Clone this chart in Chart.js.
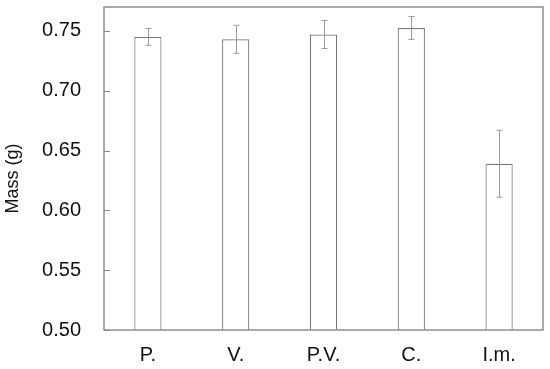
<!DOCTYPE html>
<html>
<head>
<meta charset="utf-8">
<script src="https://cdn.jsdelivr.net/npm/chart.js@4"></script>
<style>
  html, body { margin: 0; padding: 0; background: #fff; }
  #wrap { width: 550px; height: 369px; }
</style>
</head>
<body>
<div id="wrap"><canvas id="chart" width="550" height="369"></canvas></div>
<script>
// ── DATA ──
const categories = ['P.', 'V.', 'P.V.', 'C.', 'I.m.'];
const massMean   = [0.745, 0.743, 0.747, 0.7525, 0.639];
const massErr    = [0.007, 0.0117, 0.0117, 0.0096, 0.028];
const yTicks     = [0.50, 0.55, 0.60, 0.65, 0.70, 0.75];

const AXIS = '#868686';
const FONT = 'Liberation Sans, Arial, sans-serif';

// box round the plot, inward y ticks, error bars
const extras = {
  id: 'extras',
  afterDatasetsDraw(chart) {
    const { ctx, chartArea: a, scales: { x, y } } = chart;
    ctx.save();

    // error bars
    ctx.strokeStyle = '#9a9a9a';
    ctx.lineWidth = 1;
    massMean.forEach((v, i) => {
      const cx = Math.round(x.getPixelForValue(i)) + 0.5;
      const top = y.getPixelForValue(v + massErr[i]);
      const bot = y.getPixelForValue(v - massErr[i]);
      ctx.beginPath();
      ctx.moveTo(cx, top); ctx.lineTo(cx, bot);
      ctx.moveTo(cx - 3, top); ctx.lineTo(cx + 3, top);
      ctx.moveTo(cx - 3, bot); ctx.lineTo(cx + 3, bot);
      ctx.stroke();
    });

    // frame
    ctx.strokeStyle = AXIS;
    ctx.lineWidth = 1.4;
    ctx.strokeRect(a.left, a.top, a.right - a.left, a.bottom - a.top);

    // ticks pointing inward
    ctx.lineWidth = 1;
    y.ticks.forEach(t => {
      const py = Math.round(y.getPixelForValue(t.value)) + 0.5;
      ctx.beginPath();
      ctx.moveTo(a.left, py); ctx.lineTo(a.left + 6, py);
      ctx.stroke();
    });
    ctx.restore();
  }
};

new Chart(document.getElementById('chart'), {
  type: 'bar',
  data: {
    labels: categories,
    datasets: [{
      data: massMean,
      backgroundColor: '#ffffff',
      borderColor: '#777777',
      borderWidth: 1.2,
      barPercentage: 0.31,
      categoryPercentage: 1
    }]
  },
  options: {
    responsive: false,
    animation: false,
    layout: { padding: { top: 7, right: 7, left: 0, bottom: 0 } },
    plugins: { legend: { display: false }, tooltip: { enabled: false } },
    scales: {
      x: {
        grid: { display: false, drawTicks: false },
        border: { display: false },
        ticks: { color: '#111', font: { family: FONT, size: 20 }, padding: 13 },
        afterFit(s) { s.height = 39; s.paddingLeft = 0; s.paddingRight = 0; }
      },
      y: {
        min: 0.5,
        max: 0.77,
        grid: { display: false, drawTicks: false },
        border: { display: false },
        afterBuildTicks(s) { s.ticks = yTicks.map(v => ({ value: v })); },
        ticks: {
          color: '#111',
          font: { family: FONT, size: 20 },
          padding: 23,
          callback: v => Number(v).toFixed(2)
        },
        title: {
          display: true,
          text: 'Mass (g)    ',
          color: '#111',
          font: { family: FONT, size: 18 },
          padding: { top: 2, bottom: 0 }
        },
        afterFit(s) { s.width = 104; s.paddingTop = 0; s.paddingBottom = 0; }
      }
    }
  },
  plugins: [extras]
});
</script>
</body>
</html>
